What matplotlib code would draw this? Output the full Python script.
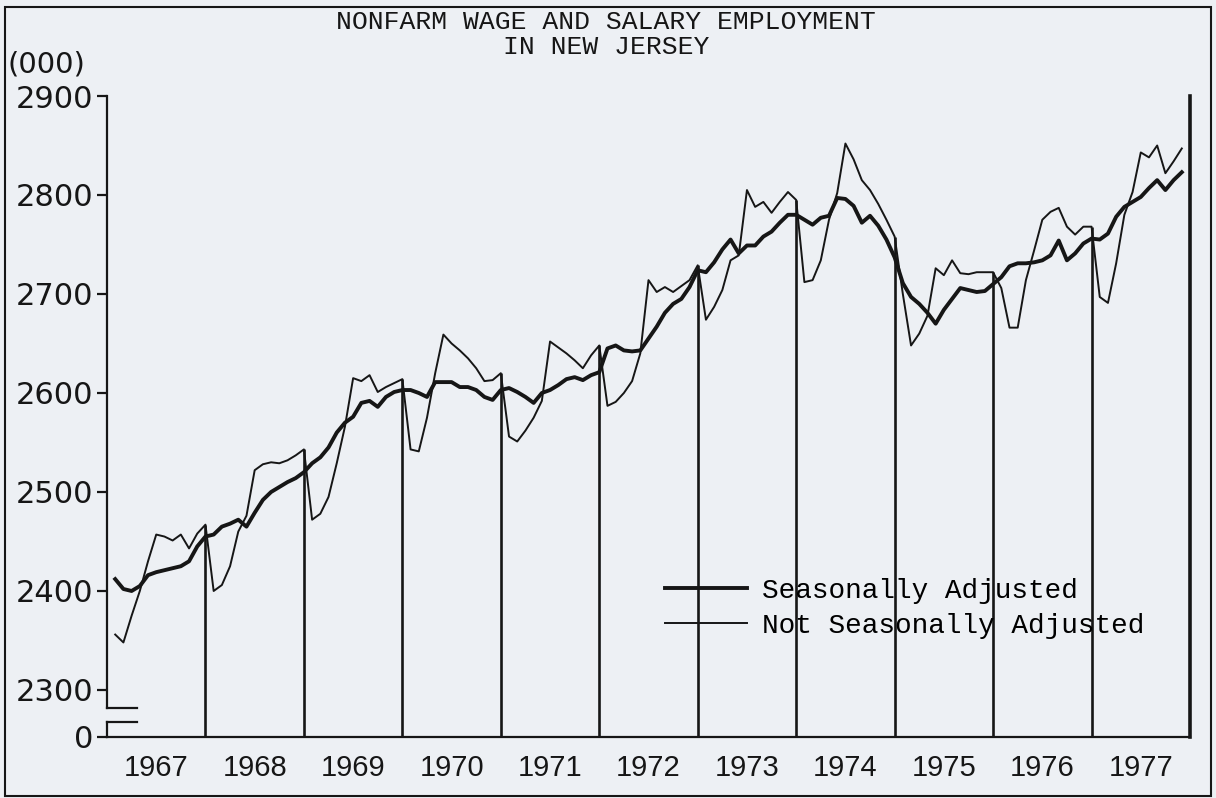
import numpy as np
import matplotlib.pyplot as plt
from matplotlib.lines import Line2D

# monthly values, thousands of jobs, Jan 1967 .. Nov 1977
not_adjusted = [
    2356, 2348, 2375, 2400, 2430, 2457, 2455, 2451, 2457, 2443, 2458, 2467,  # 1967
    2400, 2406, 2425, 2460, 2476, 2522, 2528, 2530, 2529, 2532, 2537, 2543,  # 1968
    2472, 2478, 2495, 2529, 2566, 2615, 2612, 2618, 2601, 2606, 2610, 2614,  # 1969
    2543, 2541, 2575, 2620, 2659, 2650, 2643, 2635, 2625, 2612, 2613, 2620,  # 1970
    2556, 2551, 2562, 2575, 2592, 2652, 2646, 2640, 2633, 2625, 2638, 2648,  # 1971
    2587, 2591, 2600, 2612, 2640, 2714, 2702, 2707, 2702, 2708, 2714, 2729,  # 1972
    2674, 2687, 2704, 2734, 2739, 2805, 2788, 2793, 2782, 2793, 2803, 2795,  # 1973
    2712, 2714, 2734, 2775, 2802, 2852, 2836, 2815, 2805, 2791, 2775, 2758,  # 1974
    2700, 2648, 2660, 2678, 2726, 2719, 2734, 2721, 2720, 2722, 2722, 2722,  # 1975
    2706, 2666, 2666, 2714, 2744, 2775, 2783, 2787, 2768, 2760, 2768, 2768,  # 1976
    2697, 2691, 2731, 2780, 2803, 2843, 2838, 2850, 2822, 2834, 2847,        # 1977
]
adjusted = [
    2412, 2402, 2400, 2405, 2416, 2419, 2421, 2423, 2425, 2430, 2445, 2455,  # 1967
    2457, 2465, 2468, 2472, 2465, 2479, 2492, 2500, 2505, 2510, 2514, 2520,  # 1968
    2529, 2535, 2545, 2560, 2570, 2576, 2590, 2592, 2586, 2596, 2601, 2603,  # 1969
    2603, 2600, 2596, 2611, 2611, 2611, 2606, 2606, 2603, 2596, 2593, 2603,  # 1970
    2605, 2601, 2596, 2590, 2600, 2603, 2608, 2614, 2616, 2613, 2618, 2621,  # 1971
    2645, 2648, 2643, 2642, 2643, 2655, 2667, 2681, 2690, 2695, 2707, 2724,  # 1972
    2722, 2732, 2745, 2755, 2741, 2749, 2749, 2758, 2763, 2772, 2780, 2780,  # 1973
    2775, 2770, 2777, 2779, 2797, 2796, 2789, 2772, 2779, 2769, 2755, 2737,  # 1974
    2711, 2697, 2690, 2681, 2670, 2684, 2695, 2706, 2704, 2702, 2703, 2710,  # 1975
    2717, 2728, 2731, 2731, 2732, 2734, 2739, 2754, 2734, 2741, 2751, 2756,  # 1976
    2755, 2761, 2778, 2788, 2793, 2798, 2807, 2815, 2805, 2815, 2823,        # 1977
]
years = list(range(1967, 1978))
ytick_vals = [2300, 2400, 2500, 2600, 2700, 2800, 2900]

ink = '#161616'
bg = '#edf0f4'
mono = 'Liberation Mono'

W, H = 1216, 798
fig = plt.figure(figsize=(W / 100, H / 100), dpi=100)
fig.patch.set_facecolor(bg)
ax = fig.add_axes([107 / W, 1 - 737 / H, (1190 - 107) / W, (737 - 96) / H])
ax.set_facecolor(bg)

y0 = 2252.5          # where the "0" line sits below the axis break
brk_hi, brk_lo = 2281.8, 2267.7

x = 1967 + (np.arange(len(adjusted)) + 1) / 12
nsa = np.array(not_adjusted)
ax.plot(x, nsa, color=ink, lw=1.4)
ax.plot(x, adjusted, color=ink, lw=2.8, solid_joinstyle='round')

# year dividers from the base line up to the December value
dec_vals = nsa[11::12][:len(years) - 1]
ax.vlines(years[1:], y0, dec_vals, color=ink, lw=1.9)

ax.set_xlim(1967, 1978)
ax.set_ylim(y0, 2900)

ax.spines['top'].set_visible(False)
ax.spines['right'].set_linewidth(2.6)
ax.spines['right'].set_color(ink)
ax.spines['bottom'].set_linewidth(1.6)
ax.spines['bottom'].set_color(ink)
ax.spines['left'].set_linewidth(1.6)
ax.spines['left'].set_color(ink)
ax.spines['left'].set_bounds(brk_hi, 2900)

# axis break
ax.plot([1967, 1967], [y0, brk_lo], color=ink, lw=1.6, clip_on=False)
ax.plot([1967, 1967.3], [brk_hi, brk_hi], color=ink, lw=1.6, clip_on=False)
ax.plot([1967, 1967.3], [brk_lo, brk_lo], color=ink, lw=1.6, clip_on=False)

ax.set_yticks([y0] + ytick_vals)
ax.set_yticklabels(['0'] + [str(v) for v in ytick_vals], fontsize=22)
ax.tick_params(axis='y', length=7, width=1.6, color=ink, pad=3, labelcolor=ink)

ax.set_xticks([y + 0.5 for y in years])
ax.set_xticklabels([str(y) for y in years], fontsize=21, family='Liberation Sans')
ax.tick_params(axis='x', length=0, pad=12, labelcolor=ink)

handles = [Line2D([], [], color=ink, lw=2.8), Line2D([], [], color=ink, lw=1.4)]
ax.legend(handles, ['Seasonally Adjusted', 'Not Seasonally Adjusted'],
          loc='upper left', bbox_to_anchor=(665 / W, 1 - 578 / H),
          bbox_transform=fig.transFigure, frameon=False,
          prop={'family': mono, 'size': 20}, handlelength=2.95,
          handletextpad=0.55, labelspacing=0.33, borderpad=0, borderaxespad=0)

fig.text(606 / W, 1 - 22 / H, 'NONFARM WAGE AND SALARY EMPLOYMENT', ha='center', va='center',
         family=mono, fontsize=19, color=ink)
fig.text(606 / W, 1 - 47 / H, 'IN NEW JERSEY', ha='center', va='center',
         family=mono, fontsize=19, color=ink)
fig.text(8 / W, 1 - 64 / H, '(000)', ha='left', va='center', fontsize=21, color=ink)

fig.add_artist(plt.Rectangle((5 / W, 2 / H), (1211 - 5) / W, (791 - 2) / H,
                             transform=fig.transFigure, fill=False, lw=1.5, color=ink))

fig.savefig('out.png', dpi=100, facecolor=bg)
